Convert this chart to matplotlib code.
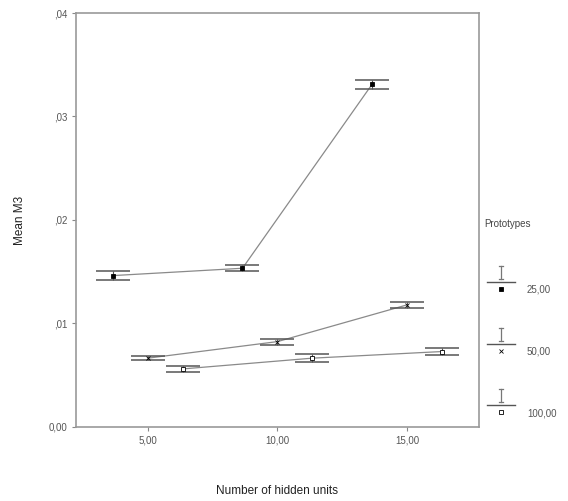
import matplotlib
matplotlib.use('Agg')
import matplotlib.pyplot as plt
from matplotlib.lines import Line2D

plt.rcParams['font.family'] = ['Liberation Sans', 'DejaVu Sans']

# hidden units per prototype group (points are offset in the original chart)
prototypes = ['25,00', '50,00', '100,00']
hidden_25 = [3.65, 8.65, 13.65]
hidden_50 = [5.0, 10.0, 15.0]
hidden_100 = [6.35, 11.35, 16.35]

mean_25 = [0.01462, 0.01533, 0.03311]
mean_50 = [0.00664, 0.00824, 0.01179]
mean_100 = [0.00560, 0.00664, 0.00728]

err_25 = [0.00040, 0.00030, 0.00045]
err_50 = [0.00022, 0.00028, 0.00030]
err_100 = [0.00025, 0.00040, 0.00030]

x_ticks = [5, 10, 15]
x_labels = ['5,00', '10,00', '15,00']
y_ticks = [0.0, 0.01, 0.02, 0.03, 0.04]
y_labels = ['0,00', ',01', ',02', ',03', ',04']

markers = ['s', 'x', 's']
faces = ['black', 'black', 'white']
msizes = [3.5, 3.0, 3.5]

W, H = 568, 501
fig = plt.figure(figsize=(W / 100, H / 100), dpi=100)
ax = fig.add_axes([0.134, 0.148, 0.709, 0.826])

groups = [(hidden_25, mean_25, err_25), (hidden_50, mean_50, err_50), (hidden_100, mean_100, err_100)]
for i, (xs, ys, es) in enumerate(groups):
    ax.plot(xs, ys, color='#8a8a8a', lw=0.9, zorder=2)
    ax.errorbar(xs, ys, yerr=es, fmt='none', ecolor='#555555', elinewidth=0.8,
                capsize=12, capthick=1.1, zorder=3)
    ax.plot(xs, ys, linestyle='none', marker=markers[i], markersize=msizes[i],
            markerfacecolor=faces[i], markeredgecolor='black', markeredgewidth=0.6, zorder=4)

ax.set_xlim(2.23, 17.77)
ax.set_ylim(0, 0.04)
ax.set_xticks(x_ticks)
ax.set_xticklabels(x_labels)
ax.set_yticks(y_ticks)
ax.set_yticklabels(y_labels)
ax.tick_params(axis='both', direction='out', length=3, width=0.8, colors='#888888',
               labelcolor='#555555', labelsize=7)
for sp in ax.spines.values():
    sp.set_color('#999999')
    sp.set_linewidth(1.2)

ax.set_xlabel('Number of hidden units', fontsize=8.5, color='#222222', labelpad=28)
ax.set_ylabel('Mean M3', fontsize=8.5, color='#222222', labelpad=16)

# legend drawn by hand: small error bar above a short line with the marker
def fx(px):
    return px / W

def fy(py):
    return 1 - py / H

fig.text(fx(484), fy(224), 'Prototypes', fontsize=7, color='#444444', va='center', ha='left')
for i, label in enumerate(prototypes):
    line_y = 282 + 61.5 * i
    cx = 501
    fig.add_artist(Line2D([fx(487), fx(515)], [fy(line_y), fy(line_y)],
                          color='#555555', lw=1.0, transform=fig.transFigure))
    fig.add_artist(Line2D([fx(cx)], [fy(line_y + 7)], marker=markers[i], markersize=msizes[i],
                          markerfacecolor=faces[i], markeredgecolor='black',
                          markeredgewidth=0.6, linestyle='none', transform=fig.transFigure))
    top, bot = line_y - 16, line_y - 3
    fig.add_artist(Line2D([fx(cx), fx(cx)], [fy(top), fy(bot)], color='#777777', lw=0.9,
                          transform=fig.transFigure))
    for yy in (top, bot):
        fig.add_artist(Line2D([fx(cx - 2), fx(cx + 2)], [fy(yy), fy(yy)], color='#777777',
                              lw=0.9, transform=fig.transFigure))
    fig.text(fx(527), fy(line_y + 8), label, fontsize=7, color='#555555', va='center', ha='left')

plt.savefig('out.png', dpi=100)
